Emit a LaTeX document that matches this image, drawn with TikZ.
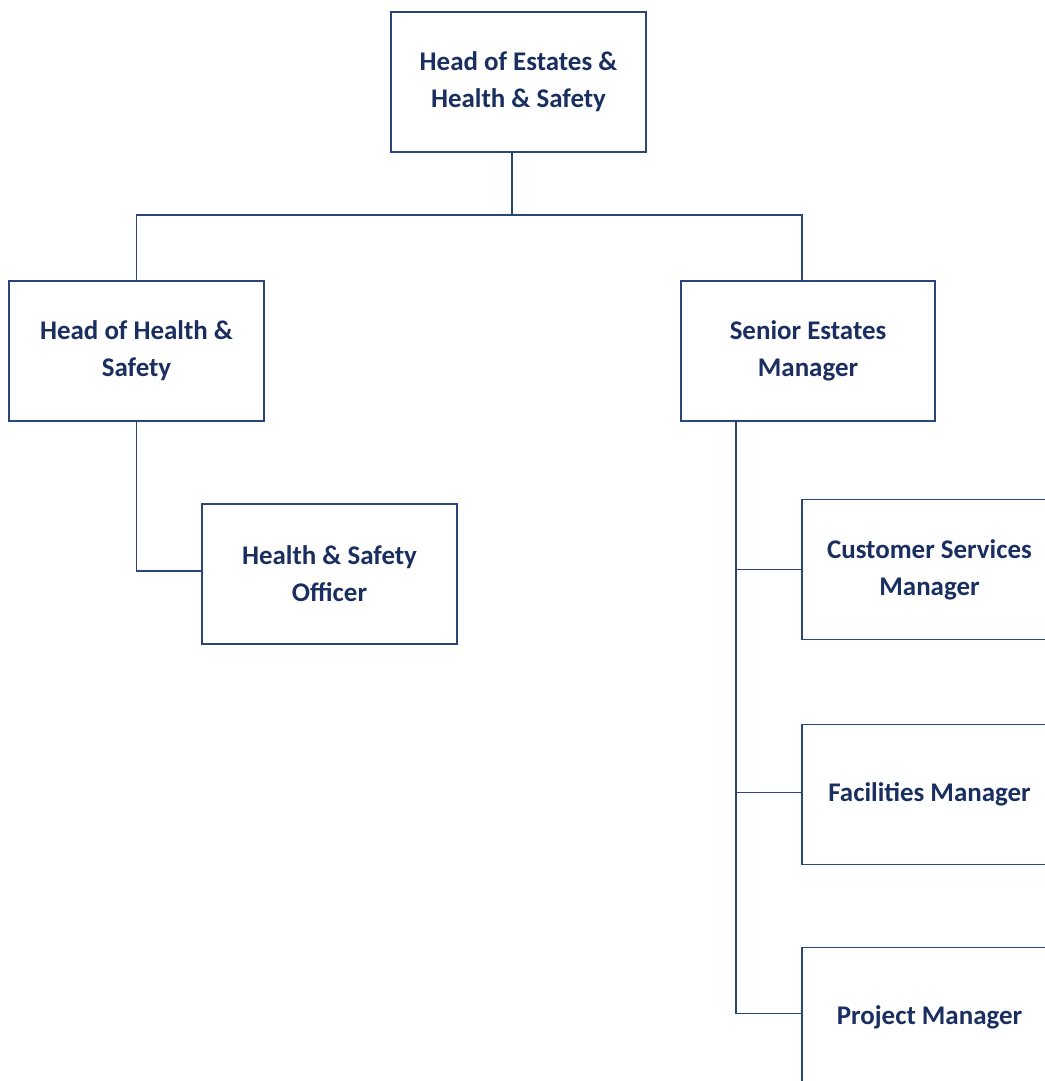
\documentclass[tikz,border=0pt]{standalone}
\usepackage{fontspec}
\setmainfont{Carlito}
\usepackage{tikz}
\usetikzlibrary{calc}
\definecolor{navytext}{HTML}{1A2F60}
\definecolor{navyline}{HTML}{2A4578}

\begin{document}
\begin{tikzpicture}[x=0.75pt,y=-0.75pt,
  post/.style={rectangle,draw=navyline,line width=1.3pt,fill=white,minimum width=191pt,minimum height=105pt,
    align=center,text=navytext,font=\fontsize{20.2}{27.75}\selectfont\bfseries},
  link/.style={draw=navyline,line width=1.1pt}]
\useasboundingbox (0,0) rectangle (1045,1081);
\clip (0,0) rectangle (1045,1081);

% Top
\node (head) at (518.5,82) [post] {Head of Estates \&\\Health \& Safety};
\coordinate (split) at (512,215);
\coordinate (lbranch) at (136.5,215);
\coordinate (rbranch) at (802,215);

% Second row
\node (hshead) at (136.5,351) [post] {Head of Health \&\\Safety};
\node (senior) at (808,351) [post] {Senior Estates\\Manager};
\draw[link] (head.south -| split) -- (split);
\draw[link] (hshead.north -| lbranch) -- (lbranch) -- (rbranch) -- (senior.north -| rbranch);

% Health and safety
\node (officer) at (329.5,574) [post] {Health \& Safety\\Officer};
\draw[link] (hshead.south) |- ($(officer.west)+(0,-3)$);

% Estates
\coordinate (spine) at (736,421);
\node (customer) at (929.5,569.5) [post] {Customer Services\\Manager};
\node (facilities) at (929.5,794.5) [post] {Facilities Manager};
\node (project) at (929.5,1017.5) [post] {Project Manager};
\draw[link] (senior.south -| spine) |- ($(project.west)+(0,-4)$);
\draw[link] (customer.west) -- (customer.west -| spine);
\draw[link] ($(facilities.west)+(0,-2)$) -- ($(facilities.west -| spine)+(0,-2)$);
\end{tikzpicture}
\end{document}
